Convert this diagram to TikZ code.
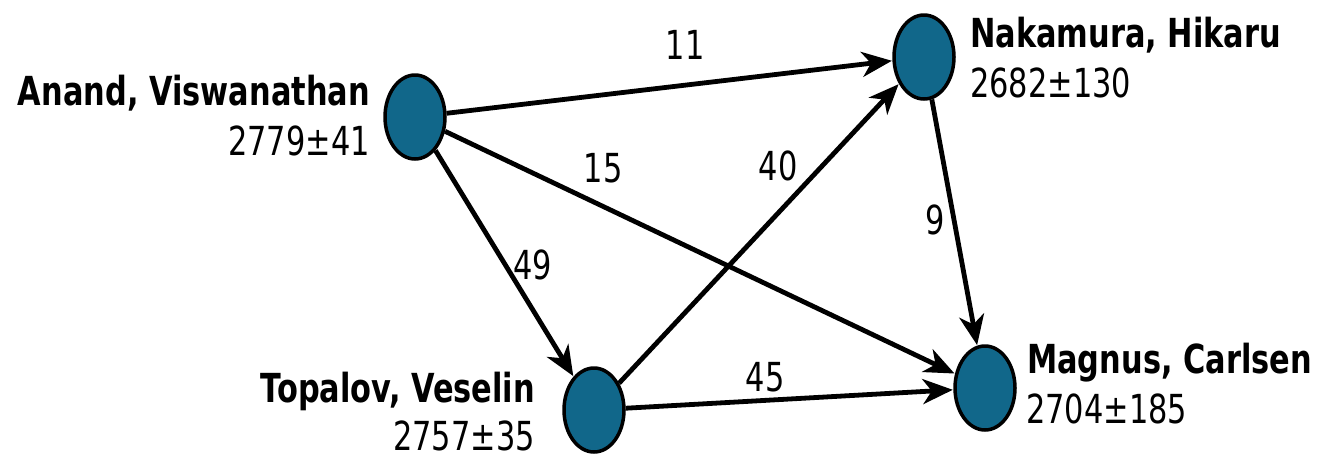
\documentclass[tikz,border=0pt]{standalone}
\usepackage{fontspec}
\usetikzlibrary{shapes.geometric,arrows.meta}
\newfontfamily\labfont{DejaVu Sans}[FakeStretch=0.76]
\definecolor{playerblue}{HTML}{11678A}
\begin{document}
\begin{tikzpicture}[x=1pt,y=-1pt,
  player/.style={ellipse,draw=black,line width=3.5pt,fill=playerblue,
    minimum width=60pt,minimum height=84pt,inner sep=0pt},
  pname/.style={font=\labfont\fontsize{40}{40}\selectfont\bfseries,inner sep=0pt},
  prating/.style={font=\labfont\fontsize{40}{40}\selectfont,inner sep=0pt},
  pweight/.style={font=\labfont\fontsize{40}{40}\selectfont,inner sep=0pt},
  game/.style={line width=4.8pt,
    -{Stealth[length=30pt,width=25pt,inset=9pt]},shorten >=0.5pt}]
\useasboundingbox (0,0) rectangle (1322,459);

% players
\node[player] (anand) at (415,117) {};
\node[player] (naka)  at (924,57)  {};
\node[player] (topa)  at (594,410) {};
\node[player] (carl)  at (985,388) {};

% names and ratings
\node[pname,anchor=base east]   (anandN) at (370,105) {Anand, Viswanathan};
\node[prating,anchor=base east] (anandR) at (370,155) {2779±41};
\node[pname,anchor=base west]   (nakaN)  at (970,47)  {Nakamura, Hikaru};
\node[prating,anchor=base west] (nakaR)  at (970,97)  {2682±130};
\node[pname,anchor=base east]   (topaN)  at (535,402) {Topalov, Veselin};
\node[prating,anchor=base east] (topaR)  at (535,450) {2757±35};
\node[pname,anchor=base west]   (carlN)  at (1027,373) {Magnus, Carlsen};
\node[prating,anchor=base west] (carlR)  at (1026,423) {2704±185};

% games played between the players
\draw[game] (anand) -- (naka);
\draw[game] (anand) -- (carl);
\draw[game] (anand) -- (topa);
\draw[game] (topa)  -- (naka);
\draw[game] (topa)  -- (carl);
\draw[game] (naka)  -- (carl);

% number of games on each connection
\node[pweight] (w11) at (685,45)  {11};
\node[pweight] (w15) at (603,168) {15};
\node[pweight] (w40) at (778,166) {40};
\node[pweight] (w49) at (533,265) {49};
\node[pweight] (w9)  at (935,220) {9};
\node[pweight] (w45) at (765,377) {45};
\end{tikzpicture}
\end{document}
